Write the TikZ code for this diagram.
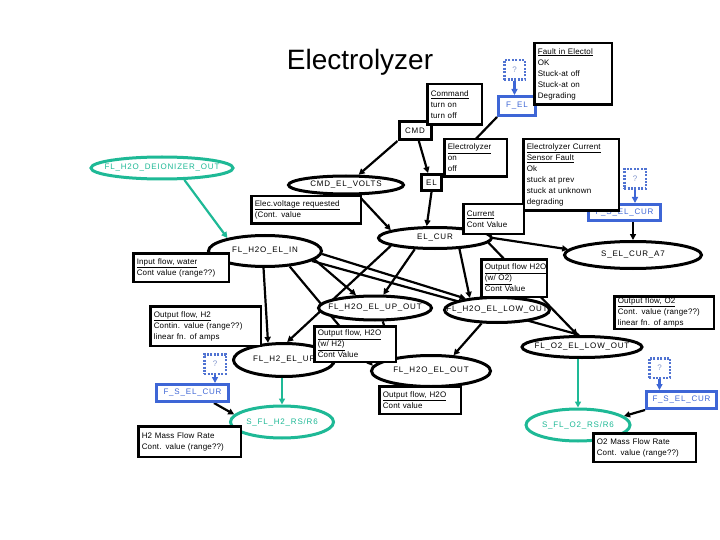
\documentclass[tikz,border=0pt]{standalone}
\usepackage{fontspec}
\setmainfont{Liberation Sans}
\newfontfamily\lblfont[LetterSpace=10]{Liberation Sans}
\newfontfamily\boxfont[LetterSpace=2]{Liberation Sans}
\usetikzlibrary{shapes.geometric,arrows.meta,backgrounds}
\definecolor{nodeblue}{RGB}{62,102,214}
\definecolor{qblue}{RGB}{80,115,210}
\definecolor{qtext}{RGB}{130,150,205}
\definecolor{tealc}{RGB}{30,185,150}
\newcommand{\lb}[1]{\makebox[0pt]{#1}}
\tikzset{
  ell/.style={ellipse, draw, line width=3pt, fill=white, inner sep=0pt, font=\lblfont\fontsize{8}{9}\selectfont},
  tell/.style={ell, draw=tealc, text=tealc},
  rbox/.style={rectangle, draw, line width=3pt, fill=white, inner sep=0pt, font=\lblfont\fontsize{8}{9}\selectfont},
  bbox/.style={rbox, draw=nodeblue, text=nodeblue},
  qbox/.style={rectangle, draw=qblue, line width=2.5pt, dash pattern=on 2pt off 1.4pt, fill=white, text=qtext, inner sep=0pt, font=\fontsize{8}{9}\selectfont},
  desc/.style={rectangle, draw, line width=2.5pt, fill=white, align=left, inner xsep=3.5pt, inner ysep=0pt, font=\boxfont\fontsize{8}{11}\selectfont},
  arr/.style={line width=2.2pt, -{Triangle[length=6pt,width=6pt]}},
  tarr/.style={arr, draw=tealc},
  barr/.style={arr, draw=nodeblue},
}
\begin{document}
\begin{tikzpicture}[x=1pt,y=-1pt]
\useasboundingbox (0,0) rectangle (720,540);
% title
\node[inner sep=0pt, font=\fontsize{28}{32}\selectfont] (title) at (360,62) {Electrolyzer};
% ellipse nodes
\node[ell, minimum width=115pt, minimum height=18pt] (VOLTS) at (346,185) {\lb{CMD\_EL\_VOLTS}};
\node[tell, minimum width=142pt, minimum height=22pt] (DEION) at (162,168) {\lb{FL\_H2O\_DEIONIZER\_OUT}};
\node[ell, minimum width=113pt, minimum height=31pt] (ELIN) at (265,251) {\lb{FL\_H2O\_EL\_IN}};
\node[ell, minimum width=113pt, minimum height=21pt] (ELCUR) at (435,238) {\lb{EL\_CUR}};
\node[ell, minimum width=137pt, minimum height=27pt] (SELCUR) at (633,255) {\lb{S\_EL\_CUR\_A7}};
\node[ell, minimum width=113pt, minimum height=24pt] (UPOUT) at (375,308) {\lb{FL\_H2O\_EL\_UP\_OUT}};
\node[ell, minimum width=105pt, minimum height=25pt] (LOWOUT) at (497,310) {\lb{FL\_H2O\_EL\_LOW\_OUT}};
\node[ell, minimum width=120pt, minimum height=21pt] (O2LOW) at (582,347) {\lb{FL\_O2\_EL\_LOW\_OUT}};
\node[ell, minimum width=101pt, minimum height=33pt] (H2UP) at (284,360) {\lb{FL\_H2\_EL\_UP}};
\node[ell, minimum width=119pt, minimum height=31pt] (H2OOUT) at (431,371) {\lb{FL\_H2O\_EL\_OUT}};
\node[tell, minimum width=103pt, minimum height=32pt] (SFLH2) at (282,422) {\lb{S\_FL\_H2\_RS/R6}};
\node[tell, minimum width=104pt, minimum height=32pt] (SFLO2) at (578,425) {\lb{S\_FL\_O2\_RS/R6}};
% rectangular nodes
\node[rbox, minimum width=32pt, minimum height=18pt] (CMD) at (415,130.5) {CMD};
\node[rbox, minimum width=20pt, minimum height=16pt] (EL) at (431.5,182.5) {EL};
\node[bbox, minimum width=37pt, minimum height=19pt] (FEL) at (517,106) {F\_EL};
\node[bbox, minimum width=72pt, minimum height=16pt] (FSELtop) at (624.5,212.5) {F\_S\_EL\_CUR};
\node[bbox, minimum width=72pt, minimum height=17pt] (FSELleft) at (192.5,393) {F\_S\_EL\_CUR};
\node[bbox, minimum width=70pt, minimum height=17pt] (FSELright) at (681.5,400) {F\_S\_EL\_CUR};
\node[qbox, minimum width=20.5pt, minimum height=19.5pt] (q1) at (514.5,70) {?};
\node[qbox, minimum width=21.5pt, minimum height=19.5pt] (q2) at (635,179) {?};
\node[qbox, minimum width=21.5pt, minimum height=19.5pt] (q3) at (215,364) {?};
\node[qbox, minimum width=20.5pt, minimum height=19.5pt] (q4) at (659.5,368) {?};
% description boxes
\node[desc, text width=47.5pt, minimum height=40.5pt] (dCommand) at (454.5,104.5) {\underline{Command}\\turn on\\turn off};
\node[desc, text width=70.5pt, minimum height=61.5pt] (dFault) at (573,74) {\underline{Fault in Electol}\\OK\\Stuck-at off\\Stuck-at on\\Degrading};
\node[desc, text width=55.5pt, minimum height=37.5pt] (dElec) at (475.5,158) {\underline{Electrolyzer}\\on\\off};
\node[desc, text width=102.5pt, minimum height=27.5pt] (dVolt) at (306,210) {\underline{Elec.voltage requested}\\(Cont. value};
\node[desc, text width=88.5pt, minimum height=71.5pt] (dSensor) at (571,175) {\underline{Electrolyzer Current}\\\underline{Sensor Fault}\\Ok\\stuck at prev\\stuck at unknown\\degrading};
\node[desc, text width=53.5pt, minimum height=29.5pt] (dCurrent) at (493.5,219) {\underline{Current}\\Cont Value};
\node[desc, text width=88.5pt, minimum height=28.5pt] (dInput) at (181,267.5) {\underline{Input flow, water}\\Cont value (range??)};
\node[desc, text width=58.5pt, minimum height=37.5pt] (dWO2) at (514,278) {\underline{Output flow H2O}\\\underline{(w/ O2)}\\Cont Value};
\node[desc, text width=92.5pt, minimum height=32.5pt] (dO2) at (664,312.5) {\underline{Output flow, O2}\\Cont. value (range??)\\linear fn. of amps};
\node[desc, text width=103.5pt, minimum height=39.5pt] (dH2) at (205.5,326) {\underline{Output flow, H2}\\Contin. value (range??)\\linear fn. of amps};
\node[desc, text width=74.5pt, minimum height=35.5pt] (dWH2) at (355,344) {\underline{Output flow, H2O}\\\underline{(w/ H2)}\\Cont Value};
\node[desc, text width=74.5pt, minimum height=27.5pt] (dH2O) at (420,400) {\underline{Output flow, H2O}\\Cont value};
\node[desc, text width=95.5pt, minimum height=30.5pt] (dH2M) at (189.5,441.5) {H2 Mass Flow Rate\\Cont. value (range??)};
\node[desc, text width=95.5pt, minimum height=28.5pt] (dO2M) at (644.5,447.5) {O2 Mass Flow Rate\\Cont. value (range??)};
% connectors
\begin{scope}[on background layer]
\fill[white] (0,0) rectangle (720,540);
\draw[barr] (q1.south) -- (q1.south |- FEL.north);
\draw[arr] (FEL.south west) -- (EL.north east);
\draw[arr] (CMD.south west) -- (VOLTS.39);
\draw[arr] (CMD.-70) -- (EL.110);
\draw[arr] (VOLTS.-40) -- (ELCUR.170);
\draw[arr] (EL.south) -- (ELCUR.125);
\draw[tarr] (DEION.-28) -- (ELIN.161);
\draw[arr] (ELCUR.190) -- (H2UP.80);
\draw[arr] (ELCUR.209) -- (UPOUT.58);
\draw[arr] (ELCUR.-24) -- (LOWOUT.156);
\draw[arr] (ELCUR.-5) -- (O2LOW.111);
\draw[arr] (ELCUR.0) -- (SELCUR.175);
\draw[barr] (q2.south) -- (q2.south |- FSELtop.north);
\draw[arr] (FSELtop.south -| SELCUR.north) -- (SELCUR.north);
\draw[arr] (ELIN.-10) -- (UPOUT.146);
\draw[arr] (ELIN.-3) -- (LOWOUT.160);
\draw[arr] (ELIN.-12) -- (O2LOW.100);
\draw[arr] (ELIN.-95) -- (H2UP.133);
\draw[arr] (ELIN.-32) -- (H2OOUT.175);
\draw[arr] (UPOUT.-60) -- (H2OOUT.159);
\draw[arr] (LOWOUT.221) -- (H2OOUT.35);
\draw[tarr] (SFLH2.north |- H2UP.south) -- (SFLH2.north);
\draw[barr] (q3.south) -- (q3.south |- FSELleft.north);
\draw[arr] (FSELleft.-25) -- (SFLH2.171);
\draw[tarr] (SFLO2.north |- O2LOW.south) -- (SFLO2.north);
\draw[barr] (q4.south) -- (q4.south |- FSELright.north);
\draw[arr] (FSELright.south west) -- (SFLO2.11);
\end{scope}
\end{tikzpicture}
\end{document}
